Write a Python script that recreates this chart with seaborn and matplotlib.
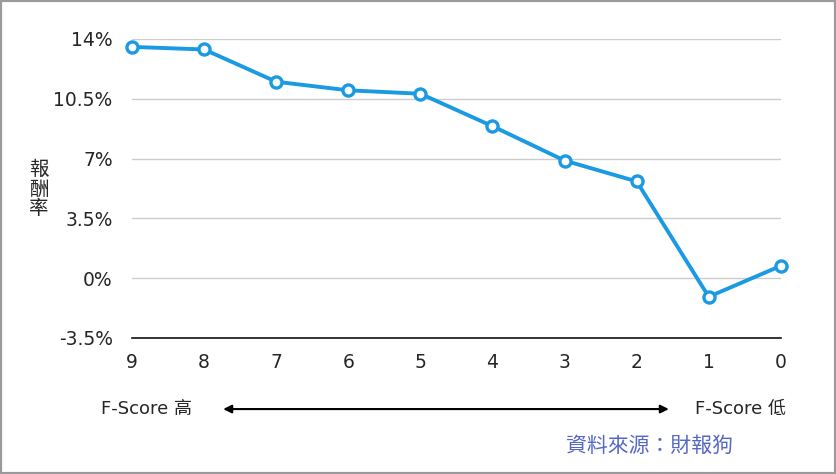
import pandas as pd
import seaborn as sns
import matplotlib.pyplot as plt
from matplotlib.patches import Rectangle

# F-Score vs return
scores = [9, 8, 7, 6, 5, 4, 3, 2, 1, 0]
returns = [13.53, 13.38, 11.49, 10.99, 10.79, 8.89, 6.88, 5.66, -1.09, 0.72]
y_ticks = [-3.5, 0, 3.5, 7, 10.5, 14]
y_labels = ['-3.5%', '0%', '3.5%', '7%', '10.5%', '14%']

sns.set_style('white')
plt.rcParams['font.family'] = ['DejaVu Sans', 'Noto Sans CJK TC']

df = pd.DataFrame({'score': scores, 'ret': returns})

fig = plt.figure(figsize=(8.36, 4.74), dpi=100)
ax = fig.add_axes([0.158, 0.287, 0.776, 0.631])

sns.lineplot(data=df, x='score', y='ret', ax=ax, color='#1b9ae4', linewidth=2.8,
             marker='o', markersize=8, markerfacecolor='white',
             markeredgecolor='#1b9ae4', markeredgewidth=2.4, clip_on=False)

ax.set_xlim(9, 0)
ax.set_ylim(-3.5, 14)
ax.set_xticks(scores)
ax.set_xticklabels([str(s) for s in scores], fontsize=13.5)
ax.set_yticks(y_ticks)
ax.set_yticklabels(y_labels, fontsize=13.5)
ax.tick_params(axis='x', length=0, pad=11)
ax.tick_params(axis='y', length=0, pad=14)
ax.yaxis.grid(True, color='#cccccc', linewidth=1)
ax.set_axisbelow(True)
for s in ['top', 'right', 'left']:
    ax.spines[s].set_visible(False)
ax.spines['bottom'].set_color('#111111')
ax.spines['bottom'].set_linewidth(1.2)
ax.set_xlabel('')
ax.set_ylabel('')

fig.text(0.046, 0.601, '報\n酬\n率', fontsize=14, ha='center', va='center',
         linespacing=1.05)

fig.text(0.121, 0.137, 'F-Score 高', fontsize=13, ha='left', va='center')
fig.text(0.94, 0.137, 'F-Score 低', fontsize=13, ha='right', va='center')
fig.patches.append(Rectangle((0, 0), 1, 1, transform=fig.transFigure,
                             fill=False, edgecolor='#9a9a9a', linewidth=3))
ax.annotate('', xy=(0.800, 0.137), xytext=(0.267, 0.137),
            xycoords='figure fraction', textcoords='figure fraction',
            arrowprops=dict(arrowstyle='<|-|>', color='black', lw=1.5,
                            mutation_scale=12, shrinkA=0, shrinkB=0))
fig.text(0.877, 0.059, '資料來源：財報狗', fontsize=15, ha='right', va='center',
         color='#5568c6')

plt.savefig('out.png', dpi=100)
